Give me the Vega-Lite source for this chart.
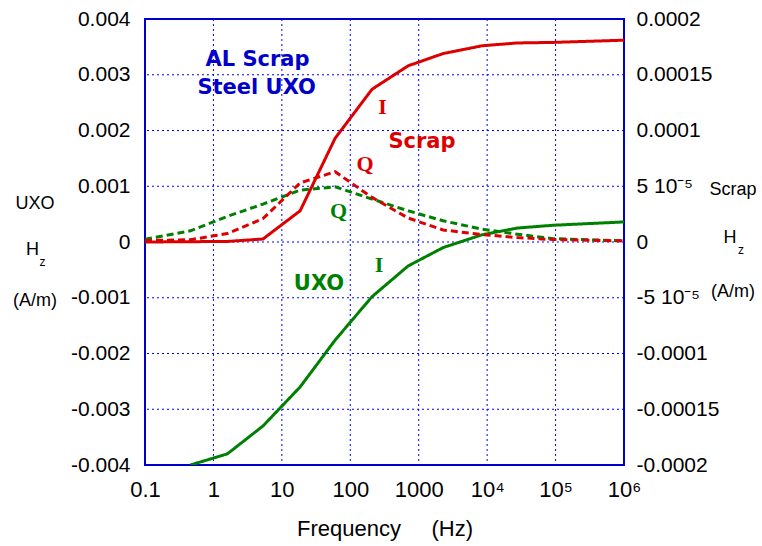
{
  "$schema": "https://vega.github.io/schema/vega-lite/v6.json",
  "width": 479,
  "height": 446,
  "autosize": {"type": "none"},
  "padding": {"left": 145, "top": 19, "right": 138, "bottom": 81},
  "background": "white",
  "config": {
    "view": {"stroke": "#0000cc", "strokeWidth": 2},
    "axis": {
      "domain": false,
      "ticks": false,
      "grid": false,
      "labelColor": "black",
      "labelFont": "Liberation Sans",
      "titleFont": "Liberation Sans",
      "titleColor": "black",
      "labelFlush": false,
      "labelOverlap": false
    }
  },
  "datasets": {
    "vgrid": [{"f": 1}, {"f": 10}, {"f": 100}, {"f": 1000}, {"f": 10000}, {"f": 100000}],
    "hgrid": [{"v": -0.003}, {"v": -0.002}, {"v": -0.001}, {"v": 0}, {"v": 0.001}, {"v": 0.002}, {"v": 0.003}],
    "curves": [
      {"f": 0.46, "v": -0.004, "obj": "UXO", "part": "I"},
      {"f": 1.6, "v": -0.0038, "obj": "UXO", "part": "I"},
      {"f": 5.3, "v": -0.0033, "obj": "UXO", "part": "I"},
      {"f": 18.5, "v": -0.0026, "obj": "UXO", "part": "I"},
      {"f": 60, "v": -0.00176, "obj": "UXO", "part": "I"},
      {"f": 208, "v": -0.00098, "obj": "UXO", "part": "I"},
      {"f": 700, "v": -0.00043, "obj": "UXO", "part": "I"},
      {"f": 2275, "v": -0.0001, "obj": "UXO", "part": "I"},
      {"f": 8450, "v": 0.00013, "obj": "UXO", "part": "I"},
      {"f": 27500, "v": 0.00025, "obj": "UXO", "part": "I"},
      {"f": 91000, "v": 0.0003, "obj": "UXO", "part": "I"},
      {"f": 1000000, "v": 0.00036, "obj": "UXO", "part": "I"},
      {"f": 0.1, "v": 0.00005, "obj": "UXO", "part": "Q"},
      {"f": 0.46, "v": 0.0002, "obj": "UXO", "part": "Q"},
      {"f": 1.6, "v": 0.00046, "obj": "UXO", "part": "Q"},
      {"f": 5.3, "v": 0.00068, "obj": "UXO", "part": "Q"},
      {"f": 18.5, "v": 0.00093, "obj": "UXO", "part": "Q"},
      {"f": 60, "v": 0.00099, "obj": "UXO", "part": "Q"},
      {"f": 208, "v": 0.00077, "obj": "UXO", "part": "Q"},
      {"f": 700, "v": 0.00056, "obj": "UXO", "part": "Q"},
      {"f": 2275, "v": 0.00038, "obj": "UXO", "part": "Q"},
      {"f": 8450, "v": 0.00023, "obj": "UXO", "part": "Q"},
      {"f": 27500, "v": 0.00014, "obj": "UXO", "part": "Q"},
      {"f": 91000, "v": 0.00006, "obj": "UXO", "part": "Q"},
      {"f": 1000000, "v": 0.00002, "obj": "UXO", "part": "Q"},
      {"f": 0.1, "v": 0, "obj": "Scrap", "part": "I"},
      {"f": 1.6, "v": 0.0000005, "obj": "Scrap", "part": "I"},
      {"f": 5.3, "v": 0.0000027, "obj": "Scrap", "part": "I"},
      {"f": 18.5, "v": 0.000028, "obj": "Scrap", "part": "I"},
      {"f": 60, "v": 0.000093, "obj": "Scrap", "part": "I"},
      {"f": 208, "v": 0.000137, "obj": "Scrap", "part": "I"},
      {"f": 700, "v": 0.000158, "obj": "Scrap", "part": "I"},
      {"f": 2275, "v": 0.000169, "obj": "Scrap", "part": "I"},
      {"f": 8450, "v": 0.000176, "obj": "Scrap", "part": "I"},
      {"f": 27500, "v": 0.0001785, "obj": "Scrap", "part": "I"},
      {"f": 91000, "v": 0.000179, "obj": "Scrap", "part": "I"},
      {"f": 1000000, "v": 0.000181, "obj": "Scrap", "part": "I"},
      {"f": 0.1, "v": 0.0000013, "obj": "Scrap", "part": "Q"},
      {"f": 0.46, "v": 0.000002, "obj": "Scrap", "part": "Q"},
      {"f": 1.6, "v": 0.0000076, "obj": "Scrap", "part": "Q"},
      {"f": 5.3, "v": 0.000021, "obj": "Scrap", "part": "Q"},
      {"f": 18.5, "v": 0.000053, "obj": "Scrap", "part": "Q"},
      {"f": 60, "v": 0.000063, "obj": "Scrap", "part": "Q"},
      {"f": 208, "v": 0.00004, "obj": "Scrap", "part": "Q"},
      {"f": 700, "v": 0.0000215, "obj": "Scrap", "part": "Q"},
      {"f": 2275, "v": 0.0000108, "obj": "Scrap", "part": "Q"},
      {"f": 8450, "v": 0.0000067, "obj": "Scrap", "part": "Q"},
      {"f": 27500, "v": 0.000004, "obj": "Scrap", "part": "Q"},
      {"f": 91000, "v": 0.0000022, "obj": "Scrap", "part": "Q"},
      {"f": 1000000, "v": 0.000001, "obj": "Scrap", "part": "Q"}
    ],
    "notes": [
      {"text": "AL Scrap", "f": 4.41, "v": 0.003256, "kind": "title"},
      {"text": "Steel UXO", "f": 4.29, "v": 0.00276, "kind": "title"},
      {"text": "Scrap", "f": 1117, "v": 0.001794, "kind": "redsans"},
      {"text": "UXO", "f": 34.9, "v": -0.000753, "kind": "greensans"},
      {"text": "I", "f": 295.6, "v": 0.002413, "kind": "redserif"},
      {"text": "Q", "f": 164, "v": 0.001408, "kind": "redserif"},
      {"text": "Q", "f": 67.3, "v": 0.000565, "kind": "greenserif"},
      {"text": "I", "f": 263, "v": -0.000413, "kind": "greenserif"},
      {"text": "UXO", "f": 0.00247, "v": 0.000682, "kind": "side"},
      {"text": "H", "f": 0.00227, "v": -0.000143, "kind": "side"},
      {"text": "(A/m)", "f": 0.00247, "v": -0.001058, "kind": "side"},
      {"text": "Scrap", "f": 39200000, "v": 0.000933, "kind": "side"},
      {"text": "H", "f": 35400000, "v": 0.0000807, "kind": "side"},
      {"text": "(A/m)", "f": 39200000, "v": -0.000897, "kind": "side"},
      {"text": "z", "f": 0.00318, "v": -0.000359, "kind": "sub"},
      {"text": "z", "f": 51300000, "v": -0.000143, "kind": "sub"}
    ]
  },
  "layer": [
    {
      "data": {"name": "vgrid"},
      "mark": {"type": "rule", "color": "#0000ff", "strokeWidth": 1, "strokeDash": [2, 3]},
      "encoding": {
        "x": {
          "field": "f", "type": "quantitative",
          "scale": {"type": "log", "domain": [0.1, 1000000], "nice": false},
          "axis": {
            "values": [0.1, 1, 10, 100, 1000, 10000, 100000, 1000000],
            "labelExpr": "datum.value >= 10000 ? (datum.value < 50000 ? '10⁴' : (datum.value < 500000 ? '10⁵' : '10⁶')) : (datum.value < 0.5 ? '0.1' : format(datum.value, 'd'))",
            "labelFontSize": 22,
            "labelPadding": 14,
            "title": "Frequency\u00a0\u00a0\u00a0\u00a0\u00a0(Hz)",
            "titleFontSize": 22,
            "titleFontWeight": "normal",
            "titlePadding": 18
          }
        }
      }
    },
    {
      "data": {"name": "hgrid"},
      "mark": {"type": "rule", "color": "#0000ff", "strokeWidth": 1, "strokeDash": [2, 3]},
      "encoding": {
        "y": {"field": "v", "type": "quantitative", "scale": {"domain": [-0.004, 0.004], "nice": false, "zero": false}, "axis": null}
      }
    },
    {
      "encoding": {
        "x": {"field": "f", "type": "quantitative", "scale": {"type": "log", "domain": [0.1, 1000000], "nice": false}},
        "y": {
          "field": "v", "type": "quantitative",
          "scale": {"domain": [-0.004, 0.004], "nice": false, "zero": false},
          "axis": {
            "orient": "left",
            "values": [-0.004, -0.003, -0.002, -0.001, 0, 0.001, 0.002, 0.003, 0.004],
            "labelExpr": "replace(format(datum.value, '~f'), '\u2212', '-')",
            "labelFontSize": 21,
            "labelPadding": 15,
            "title": null
          }
        }
      },
      "layer": [
        {
          "data": {"name": "curves"},
          "transform": [{"filter": "datum.obj == 'UXO'"}],
          "mark": {"type": "line", "color": "#008000", "strokeWidth": 3, "clip": true},
          "encoding": {
            "strokeDash": {
              "field": "part", "type": "nominal",
              "scale": {"domain": ["I", "Q"], "range": [[1, 0], [7, 4]]},
              "legend": null
            }
          }
        },
        {
          "data": {"name": "notes"},
          "transform": [{"filter": "datum.kind == 'title'"}],
          "mark": {"type": "text", "font": "DejaVu Sans", "fontWeight": "bold", "fontSize": 21, "color": "#0000cc", "align": "center", "baseline": "middle"},
          "encoding": {"text": {"field": "text"}}
        },
        {
          "data": {"name": "notes"},
          "transform": [{"filter": "datum.kind == 'redsans'"}],
          "mark": {"type": "text", "font": "DejaVu Sans", "fontWeight": "bold", "fontSize": 21, "color": "#dd0000", "align": "center", "baseline": "middle"},
          "encoding": {"text": {"field": "text"}}
        },
        {
          "data": {"name": "notes"},
          "transform": [{"filter": "datum.kind == 'greensans'"}],
          "mark": {"type": "text", "font": "DejaVu Sans", "fontWeight": "bold", "fontSize": 21, "color": "#008000", "align": "center", "baseline": "middle"},
          "encoding": {"text": {"field": "text"}}
        },
        {
          "data": {"name": "notes"},
          "transform": [{"filter": "datum.kind == 'redserif'"}],
          "mark": {"type": "text", "font": "Liberation Serif", "fontWeight": "bold", "fontSize": 22, "color": "#dd0000", "align": "center", "baseline": "middle"},
          "encoding": {"text": {"field": "text"}}
        },
        {
          "data": {"name": "notes"},
          "transform": [{"filter": "datum.kind == 'greenserif'"}],
          "mark": {"type": "text", "font": "Liberation Serif", "fontWeight": "bold", "fontSize": 22, "color": "#008000", "align": "center", "baseline": "middle"},
          "encoding": {"text": {"field": "text"}}
        },
        {
          "data": {"name": "notes"},
          "transform": [{"filter": "datum.kind == 'side'"}],
          "mark": {"type": "text", "font": "Liberation Sans", "fontSize": 18, "color": "black", "align": "center", "baseline": "middle"},
          "encoding": {"text": {"field": "text"}}
        },
        {
          "data": {"name": "notes"},
          "transform": [{"filter": "datum.kind == 'sub'"}],
          "mark": {"type": "text", "font": "Liberation Sans", "fontSize": 12, "color": "black", "align": "center", "baseline": "middle"},
          "encoding": {"text": {"field": "text"}}
        }
      ]
    },
    {
      "data": {"name": "curves"},
      "transform": [{"filter": "datum.obj == 'Scrap'"}],
      "mark": {"type": "line", "color": "#dd0000", "strokeWidth": 3, "clip": true},
      "encoding": {
        "x": {"field": "f", "type": "quantitative", "scale": {"type": "log", "domain": [0.1, 1000000], "nice": false}},
        "y": {
          "field": "v", "type": "quantitative",
          "scale": {"domain": [-0.0002, 0.0002], "nice": false, "zero": false},
          "axis": {
            "orient": "right",
            "values": [-0.0002, -0.00015, -0.0001, -0.00005, 0, 0.00005, 0.0001, 0.00015, 0.0002],
            "labelExpr": "abs(datum.value - 0.00005) < 1e-10 ? '5 10⁻⁵' : (abs(datum.value + 0.00005) < 1e-10 ? '-5 10⁻⁵' : replace(format(datum.value, '~f'), '\u2212', '-'))",
            "labelFontSize": 21,
            "labelPadding": 12,
            "title": null
          }
        },
        "strokeDash": {
          "field": "part", "type": "nominal",
          "scale": {"domain": ["I", "Q"], "range": [[1, 0], [7, 4]]},
          "legend": null
        }
      }
    }
  ],
  "resolve": {"scale": {"y": "independent"}}
}
